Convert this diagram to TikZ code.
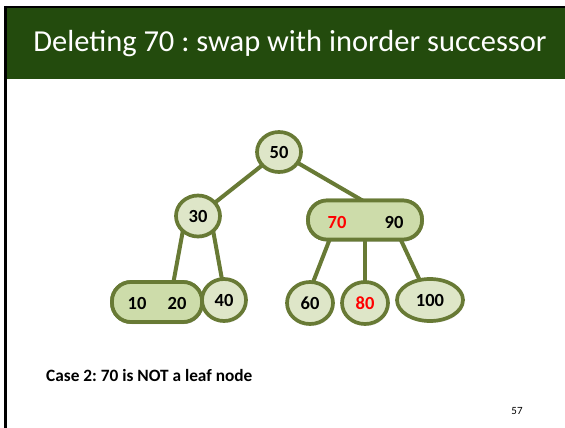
\documentclass[tikz,border=0pt]{standalone}
\usepackage{fontspec}
\setmainfont{Carlito}
\usetikzlibrary{shadows,shapes.geometric}
\definecolor{hdr}{HTML}{234B0D}
\definecolor{olive}{HTML}{687A35}
\definecolor{cfill}{HTML}{DEE6C8}
\definecolor{bfill}{HTML}{CDDCAA}
\tikzset{
  circ/.style={ellipse, draw=olive, line width=3.7pt, fill=cfill, inner sep=0pt,
    font=\fontsize{18.5}{20}\selectfont\bfseries,
    drop shadow={opacity=0.2, shadow xshift=1pt, shadow yshift=-2pt}},
  pill/.style={rectangle, rounded corners=19pt, draw=olive, line width=3.7pt, fill=bfill, inner sep=0pt,
    drop shadow={opacity=0.2, shadow xshift=1pt, shadow yshift=-2pt}},
  key/.style={font=\fontsize{18.5}{20}\selectfont\bfseries, inner sep=0pt},
  edge/.style={draw=olive, line width=4pt},
}
\begin{document}
\frenchspacing
\begin{tikzpicture}[x=1pt,y=-1pt]
\useasboundingbox (0,0) rectangle (565,428);
\fill[white] (0,0) rectangle (565,428);
% header
\fill[hdr] (6,7) rectangle (565,79);
\draw[black, line width=2pt] (5,7) -- (565,7);
\draw[black, line width=3pt] (5.5,6) -- (5.5,428);
\node[text=white, font=\fontsize{30.5}{32}\selectfont, anchor=base] (title) at (290,52) {Deleting 70 : swap with inorder successor};

\coordinate (p50) at (279,152);
\coordinate (p30) at (198,216);
\coordinate (p7090) at (365,220);
\coordinate (p1020) at (157,302);
\coordinate (p40) at (224,300);
\coordinate (p60) at (310,303);
\coordinate (p80) at (365,303);
\coordinate (p100) at (430,300);

\node[pill, minimum width=114pt, minimum height=39pt] (n7090) at (p7090) {};
\node[pill, minimum width=90pt, minimum height=40pt] (n1020) at (p1020) {};

\draw[edge] (p50) -- (365,202) coordinate (t7090);
\draw[edge] (p50) -- (p30);
\draw[edge] (213,230) coordinate (b30r) -- (223,285);
\draw[edge] (183,230) coordinate (b30l) -- (172,290);
\draw[edge] (331,236) coordinate (b70) -- (310,290);
\draw[edge] (n7090.south) -- (p80);
\draw[edge] (399,236) coordinate (b90) -- (422,285);

\node[circ, minimum width=44pt, minimum height=40pt] (n50) at (p50) {50};
\node[circ, minimum width=44pt, minimum height=41pt] (n30) at (p30) {30};
\node[pill, minimum width=114pt, minimum height=39pt] (n7090b) at (p7090) {};
\node[key, text=red] (k70) at (337,222) {70};
\node[key] (k90) at (394,222) {90};
\node[pill, minimum width=90pt, minimum height=40pt] (n1020b) at (p1020) {};
\node[key] (k10) at (137,303) {10};
\node[key] (k20) at (177,303) {20};
\node[circ, minimum width=44pt, minimum height=42pt] (n40) at (p40) {40};
\node[circ, minimum width=46pt, minimum height=42pt] (n60) at (p60) {60};
\node[circ, minimum width=46pt, minimum height=42pt, text=red] (n80) at (p80) {80};
\node[circ, minimum width=66pt, minimum height=42pt] (n100) at (p100) {100};

\node[anchor=base west, font=\fontsize{17.3}{19}\selectfont\bfseries, inner sep=0pt] (case) at (46,381) {Case 2: 70 is NOT a leaf node};
\node[font=\fontsize{11}{12}\selectfont, inner sep=0pt, anchor=base] (pg) at (517,414) {57};
\end{tikzpicture}
\end{document}
